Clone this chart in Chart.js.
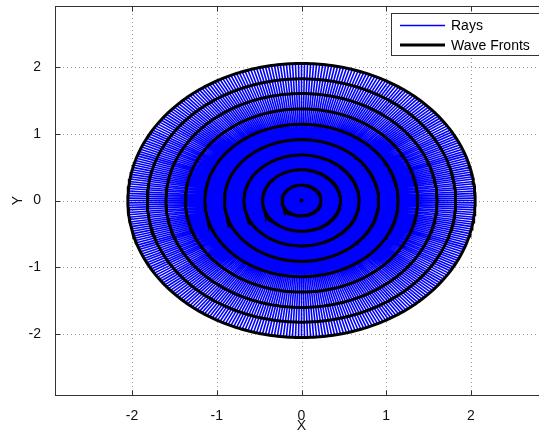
<!DOCTYPE html>
<html><head><meta charset="utf-8">
<script src="https://cdn.jsdelivr.net/npm/chart.js@4/dist/chart.umd.min.js"></script>
<style>html,body{margin:0;padding:0;overflow:hidden;background:#fff;width:539px;height:437px}#wrap{width:560px;height:437px}</style>
</head><body><div id="wrap"><canvas id="c" width="560" height="437"></canvas></div>
<script>
// ---- data ----
const xTicks = [-2, -1, 0, 1, 2];
const yTicks = [-2, -1, 0, 1, 2];
const axisMin = -2.91, axisMax = 2.91;
const frontRadii = [0, 0.23, 0.46, 0.68, 0.91, 1.14, 1.37, 1.60, 1.82, 2.05];
const rayCount = 360;
const rayLength = 2.05;
const seriesLabels = ['Rays', 'Wave Fronts'];

// ---- build line data (segments separated by gaps) ----
const rayData = [];
for (let i = 0; i < rayCount; i++) {
  const t = i * 2 * Math.PI / rayCount;
  rayData.push({x: 0, y: 0});
  rayData.push({x: rayLength * Math.cos(t), y: rayLength * Math.sin(t)});
  rayData.push({x: NaN, y: NaN});
}
const frontData = [];
frontRadii.forEach(r => {
  if (r === 0) { frontData.push({x: 0, y: 0}); }
  else {
    for (let j = 0; j <= 360; j++) {
      const t = j * Math.PI / 180;
      frontData.push({x: r * Math.cos(t), y: r * Math.sin(t)});
    }
  }
  frontData.push({x: NaN, y: NaN});
});

const FONT = "'Liberation Sans', Arial, Helvetica, sans-serif";

const framePlugin = {
  id: 'frame',
  beforeDatasetsDraw(chart) {
    const {ctx, chartArea: a, scales} = chart;
    ctx.save();
    ctx.strokeStyle = '#a0a0a0';
    ctx.lineWidth = 1;
    ctx.setLineDash([1, 3]);
    xTicks.forEach(v => {
      const px = Math.round(scales.x.getPixelForValue(v)) + 0.5;
      ctx.beginPath(); ctx.moveTo(px, a.top); ctx.lineTo(px, a.bottom); ctx.stroke();
    });
    yTicks.forEach(v => {
      const py = Math.round(scales.y.getPixelForValue(v)) + 0.5;
      ctx.beginPath(); ctx.moveTo(a.left, py); ctx.lineTo(a.right, py); ctx.stroke();
    });
    ctx.restore();
  },
  afterDraw(chart) {
    const {ctx, chartArea: a, scales} = chart;
    ctx.save();
    ctx.strokeStyle = '#333333';
    ctx.lineWidth = 1;
    const L = Math.round(a.left) + 0.5, T = Math.round(a.top) + 0.5;
    const R = Math.round(a.right) + 0.5, B = Math.round(a.bottom) + 0.5;
    ctx.strokeRect(L, T, R - L, B - T);
    // inward ticks
    ctx.beginPath();
    xTicks.forEach(v => {
      const px = Math.round(scales.x.getPixelForValue(v)) + 0.5;
      ctx.moveTo(px, B); ctx.lineTo(px, B - 5);
      ctx.moveTo(px, T); ctx.lineTo(px, T + 5);
    });
    yTicks.forEach(v => {
      const py = Math.round(scales.y.getPixelForValue(v)) + 0.5;
      ctx.moveTo(L, py); ctx.lineTo(L + 5, py);
      ctx.moveTo(R, py); ctx.lineTo(R - 5, py);
    });
    ctx.stroke();
    // legend box
    const lx = 391.5, ly = 13.5, lw = 152, lh = 42;
    ctx.fillStyle = '#ffffff';
    ctx.fillRect(lx, ly, lw, lh);
    ctx.strokeStyle = '#333333';
    ctx.strokeRect(lx, ly, lw, lh);
    const ds = chart.data.datasets;
    const rows = [ly + 12, ly + 31.5];
    [1, 0].forEach((di, k) => {
      const d = ds[di];
      ctx.beginPath();
      ctx.strokeStyle = d.borderColor;
      ctx.lineWidth = di === 1 ? 1.5 : 3;
      ctx.moveTo(400, rows[k]); ctx.lineTo(445, rows[k]);
      ctx.stroke();
      ctx.fillStyle = '#000';
      ctx.font = '14px ' + FONT;
      ctx.textBaseline = 'middle';
      ctx.textAlign = 'left';
      ctx.fillText(d.label, 451, rows[k] + 1);
    });
    ctx.restore();
  }
};

new Chart(document.getElementById('c'), {
  type: 'scatter',
  data: {
    datasets: [
      {
        label: seriesLabels[1], data: frontData, showLine: true, spanGaps: false,
        borderColor: '#000000', borderWidth: 3, order: 1,
        pointRadius: c => (c.raw && c.raw.x === 0 && c.raw.y === 0) ? 2 : 0,
        pointBackgroundColor: '#000', pointBorderWidth: 0, pointHoverRadius: 0
      },
      {
        label: seriesLabels[0], data: rayData, showLine: true, spanGaps: false,
        borderColor: '#0000ff', borderWidth: 1.6, order: 2,
        pointRadius: 0, pointHoverRadius: 0
      }
    ]
  },
  options: {
    responsive: false, animation: false,
    layout: {padding: {left: 0, top: 6, right: 12, bottom: 0}},
    plugins: {legend: {display: false}, tooltip: {enabled: false}},
    scales: {
      x: {
        type: 'linear', min: axisMin, max: axisMax,
        afterBuildTicks: s => { s.ticks = xTicks.map(v => ({value: v})); },
        afterFit: s => { s.height = 42; s.paddingLeft = 0; s.paddingRight = 0; },
        grid: {display: false}, border: {display: false},
        ticks: {font: {family: FONT, size: 14}, color: '#111', padding: 5},
        title: {display: true, text: 'X', font: {family: FONT, size: 14}, color: '#111', padding: {top: 2, bottom: 2}}
      },
      y: {
        type: 'linear', min: axisMin, max: axisMax,
        afterBuildTicks: s => { s.ticks = yTicks.map(v => ({value: v})); },
        afterFit: s => { s.width = 55; s.paddingTop = 0; s.paddingBottom = 0; },
        grid: {display: false}, border: {display: false},
        ticks: {font: {family: FONT, size: 14}, color: '#111', padding: 6},
        title: {display: true, text: 'Y', font: {family: FONT, size: 14}, color: '#111', padding: {top: 10, bottom: 2}}
      }
    }
  },
  plugins: [framePlugin]
});
</script>
</body></html>
